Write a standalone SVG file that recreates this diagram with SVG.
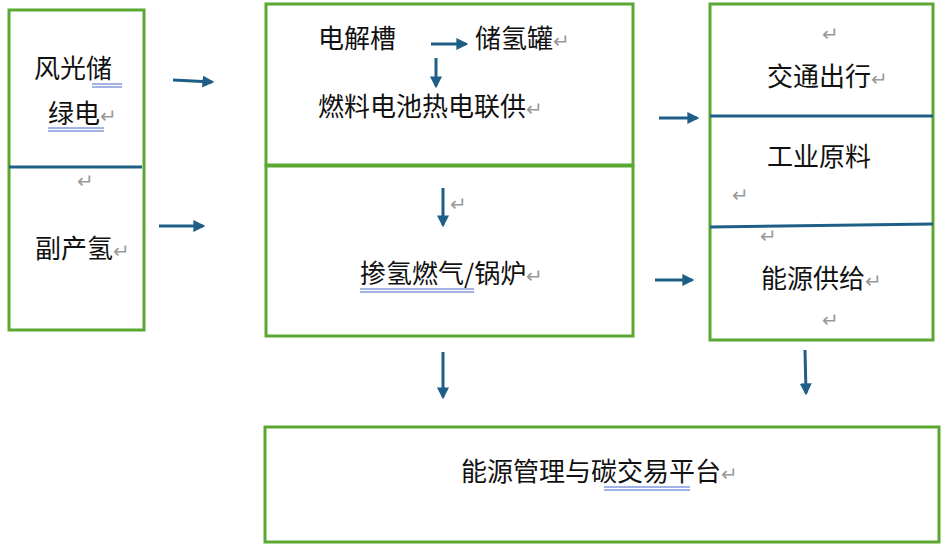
<svg xmlns="http://www.w3.org/2000/svg" width="948" height="546" viewBox="0 0 948 546">
<defs>
<style>
.box{fill:#fff;stroke:#5aa832;stroke-width:3}
.div{stroke:#1f5f87;stroke-width:3}
.t{font-family:"Noto Sans CJK SC","Liberation Sans",sans-serif;font-size:26px;fill:#111}
.r{font-family:"Liberation Sans",sans-serif;font-size:20px;fill:#999}
.a{stroke:#1f5f87;stroke-width:3;fill:none;marker-end:url(#ah)}
.u{stroke:#4466cc;stroke-width:1;fill:none}
</style>
<marker id="ah" viewBox="0 0 10 10" refX="8" refY="5" markerWidth="4" markerHeight="4" orient="auto"><path d="M0,0L10,5L0,10z" fill="#1f5f87"/></marker>
</defs>
<rect width="948" height="546" fill="#fff"/>
<g id="left">
<rect class="box" x="9" y="10" width="135" height="320"/>
<line class="div" x1="9" y1="167" x2="142" y2="167"/>
<text class="t" x="34" y="78">风光储</text>
<text class="t" x="48" y="123">绿电<tspan class="r">↵</tspan></text>
<path class="u" d="M92,84H122M92,87H122M48,128H104M48,131H104"/>
<text class="r" x="77" y="188">↵</text>
<text class="t" x="35" y="258">副产氢<tspan class="r">↵</tspan></text>
</g>
<g id="mid-top">
<rect class="box" x="266" y="4" width="367" height="161"/>
<text class="t" x="318" y="48">电解槽</text>
<text class="t" x="475" y="48">储氢罐<tspan class="r">↵</tspan></text>
<text class="t" x="318" y="116">燃料电池热电联供<tspan class="r">↵</tspan></text>
</g>
<g id="mid-bottom">
<rect class="box" x="266" y="166" width="367" height="170"/>
<text class="r" x="450" y="211">↵</text>
<text class="t" x="360" y="283">掺氢燃气/锅炉<tspan class="r">↵</tspan></text>
<path class="u" d="M360,289H474M360,292H474"/>
</g>
<g id="right">
<rect class="box" x="710" y="4" width="223" height="336"/>
<line class="div" x1="710" y1="116" x2="933" y2="116"/>
<line class="div" x1="710" y1="227" x2="933" y2="224"/>
<text class="r" x="822" y="41">↵</text>
<text class="t" x="767" y="86">交通出行<tspan class="r">↵</tspan></text>
<text class="t" x="767" y="166">工业原料</text>
<text class="r" x="732" y="202">↵</text>
<text class="r" x="760" y="243">↵</text>
<text class="t" x="761" y="288">能源供给<tspan class="r">↵</tspan></text>
<text class="r" x="822" y="327">↵</text>
</g>
<g id="bottom">
<rect class="box" x="265" y="427" width="674" height="115"/>
<text class="t" x="461" y="481">能源管理与碳交易平台<tspan class="r">↵</tspan></text>
<path class="u" d="M604,487H690M604,490H690"/>
</g>
<g id="connectors">
<path class="a" d="M173,80L212,82"/>
<path class="a" d="M159,226L203,226"/>
<path class="a" d="M431,44L466,44"/>
<path class="a" d="M436,58L436,86"/>
<path class="a" d="M443,188L443,225"/>
<path class="a" d="M659,118L697,118"/>
<path class="a" d="M655,280L692,280"/>
<path class="a" d="M443,352L443,397"/>
<path class="a" d="M805,350L806,393"/>
</g>
</svg>
